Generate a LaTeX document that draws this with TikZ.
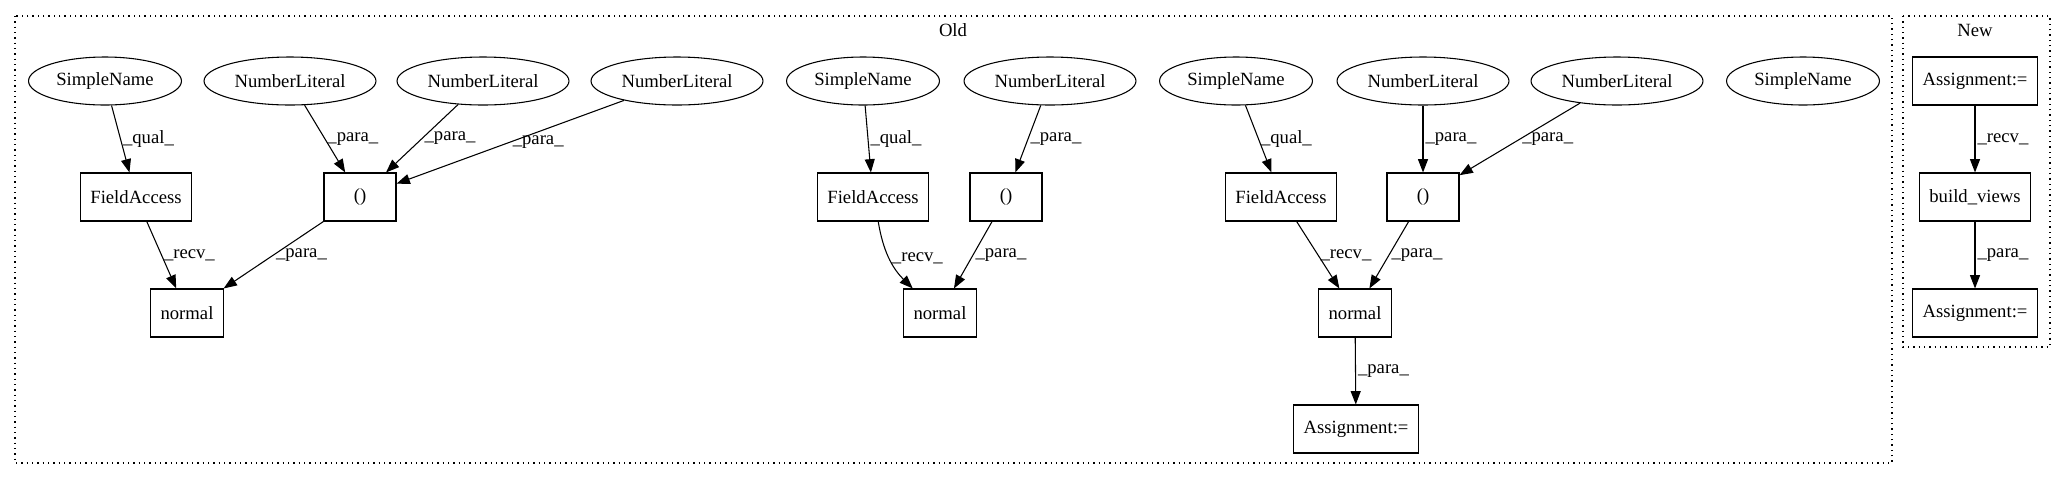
\documentclass[tikz,border=0pt]{standalone}
\usepackage{fontspec}
\setmainfont{Liberation Serif}
\usetikzlibrary{shapes.geometric,arrows.meta}

\begin{document}
\begin{tikzpicture}[x=0.75pt, y=-0.75pt
        , every node/.style={ font=\fontsize{14pt}{16pt}\selectfont }
        , leaf/.style={ draw, ellipse, line width=0.8pt, inner xsep=4pt, minimum height=36pt }
        , op/.style={ draw, rectangle, line width=0.8pt, inner xsep=7.5pt, minimum width=54pt, minimum height=36pt }
        , lbl/.style={ midway, right, inner sep=1.5pt }
        , cluster/.style={ draw, line width=0.9pt, dash pattern=on 1pt off 3pt }
        , every edge/.style={ draw, line width=0.8pt, -{Triangle[length=10pt,width=7.5pt]} }
        ]

        \useasboundingbox (0,0) rectangle (2065,480);

        % The two clusters.
        \draw[cluster] (15,16) rectangle (1892,463);
        \node (old) at (953,30) {Old};
        \draw[cluster] (1903,16) rectangle (2050,347);
        \node (new) at (1975,30) {New};

        % Top row of leaves in the old code.
        \foreach \x/\n/\t in {105/sa/SimpleName, 290/na/NumberLiteral, 483/nb/NumberLiteral,
                677/nc/NumberLiteral, 863/sb/SimpleName, 1050/nd/NumberLiteral,
                1236/sc/SimpleName, 1423/ne/NumberLiteral, 1617/nf/NumberLiteral,
                1803/sd/SimpleName}
            \node[leaf] (\n) at (\x,81) {\t};

        % Second row.
        \node[op] (fa) at (136,197) {FieldAccess};
        \node[op] (pa) at (360,197) {()};
        \node[op] (fb) at (873,197) {FieldAccess};
        \node[op] (pb) at (1006,197) {()};
        \node[op] (fc) at (1281,197) {FieldAccess};
        \node[op] (pc) at (1423,197) {()};

        % Calls to normal and the assignment.
        \node[op] (ma) at (187,313) {normal};
        \node[op] (mb) at (940,313) {normal};
        \node[op] (mc) at (1355,313) {normal};
        \node[op] (asg) at (1356,429) {Assignment:=};

        % The new code.
        \node[op] (na1) at (1975,81) {Assignment:=};
        \node[op] (bv) at (1975,197) {build\_views};
        \node[op] (na2) at (1975,313) {Assignment:=};

        % Qualifiers and parameters.
        \path (sa) edge node[lbl] {\_qual\_} (fa)
              (na) edge node[lbl] {\_para\_} (pa)
              (nb) edge node[lbl] {\_para\_} (pa)
              (nc) edge node[lbl] {\_para\_} (pa)
              (fa) edge node[lbl] {\_recv\_} (ma)
              (pa) edge node[lbl] {\_para\_} (ma)
              ;
        \path (sb) edge node[lbl] {\_qual\_} (fb)
              (nd) edge node[lbl] {\_para\_} (pb)
              (fb) edge[bend right=18] node[lbl] {\_recv\_} (mb)
              (pb) edge node[lbl] {\_para\_} (mb)
              ;
        \path (sc) edge node[lbl] {\_qual\_} (fc)
              (ne) edge node[lbl] {\_para\_} (pc)
              (nf) edge node[lbl] {\_para\_} (pc)
              (fc) edge node[lbl] {\_recv\_} (mc)
              (pc) edge node[lbl] {\_para\_} (mc)
              (mc) edge node[lbl] {\_para\_} (asg)
              ;
        \path (na1) edge node[lbl] {\_recv\_} (bv)
              (bv) edge node[lbl] {\_para\_} (na2)
              ;

\end{tikzpicture}
\end{document}
